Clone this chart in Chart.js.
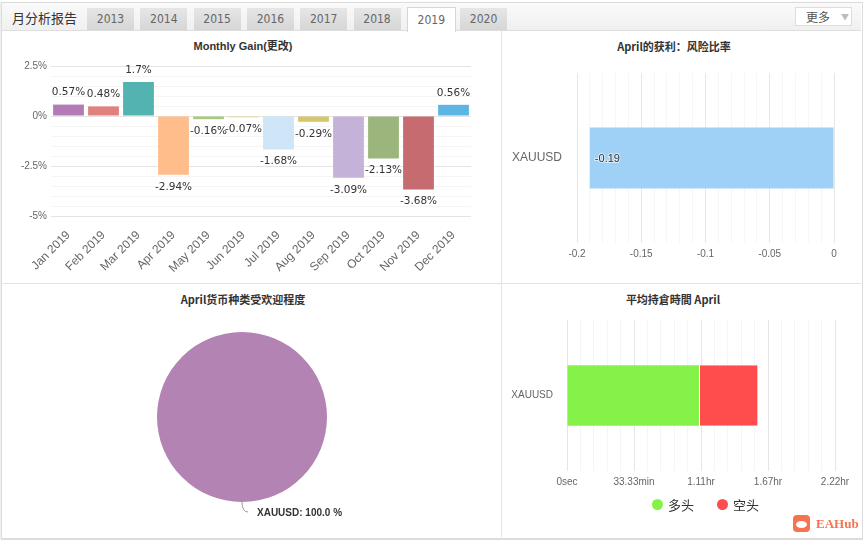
<!DOCTYPE html>
<html>
<head>
<meta charset="utf-8">
<script src="https://cdn.jsdelivr.net/npm/chart.js@4/dist/chart.umd.min.js"></script>
<style>
  body { margin: 0; background: #fff; font-family: Arial, "Liberation Sans", "Noto Sans CJK SC", sans-serif; }
  #wrap { position: relative; width: 863px; height: 540px; overflow: hidden; }
  .frame { position: absolute; left: 1px; top: 2px; width: 860px; height: 535px; border: 1px solid #dcdcdc; box-shadow: 0 1px 2px #ccc; }
  .head { position: absolute; left: 2px; top: 3px; width: 859px; height: 27px; background: linear-gradient(#fafafa, #f0f0f0); border-bottom: 1px solid #dedede; }
  .head-title { position: absolute; left: 12px; top: 10px; font-size: 13px; color: #333; font-family: "Noto Sans CJK SC", sans-serif; line-height: 16px; }
  .tab { position: absolute; top: 8px; width: 47px; height: 22px; background: linear-gradient(#e6e6e6, #d6d6d6); color: #666; font-size: 12px; text-align: center; line-height: 23px; font-family: "DejaVu Sans Condensed", "Liberation Sans Narrow", Arial, sans-serif; }
  .tab.active { background: #fff; border: 1px solid #d6d6d6; border-bottom: none; top: 7px; height: 24px; line-height: 25px; }
  .more { position: absolute; left: 795px; top: 7px; width: 55px; height: 17px; background: #fff; border: 1px solid #ddd; font-size: 12px; color: #555; line-height: 17px; font-family: "Noto Sans CJK SC", sans-serif; }
  .more span { position: absolute; left: 10px; }
  .more i { position: absolute; left: 45px; font-style: normal; font-size: 8px; color: #bbb; }
  .vline { position: absolute; left: 501px; top: 31px; width: 1px; height: 506px; background: #e3e3e3; }
  .hline { position: absolute; left: 2px; top: 283px; width: 859px; height: 1px; background: #e3e3e3; }
  .title { position: absolute; font-size: 11px; font-weight: bold; color: #333; text-align: center; font-family: Arial, "Noto Sans CJK SC", sans-serif; }
  .box { position: absolute; }
  .legend { position: absolute; top: 495px; left: 650px; font-size: 13px; color: #333; font-family: "Noto Sans CJK SC", sans-serif; }
  .legend .dot { position: absolute; top: 4px; width: 11px; height: 11px; border-radius: 50%; }
  .legend .txt { position: absolute; top: 0; white-space: nowrap; }
  .logo { position: absolute; left: 793px; top: 515px; }
  .logo .ic { position: absolute; left: 0; top: 0; width: 17px; height: 17px; border-radius: 4px; background: #f7734f; }
  .logo .ic b { position: absolute; left: 3px; top: 6px; width: 11px; height: 7px; border-radius: 50%; background: #fff; }
  .logo .tx { position: absolute; left: 23px; top: 0; font: bold 13px "Liberation Serif", "DejaVu Serif", serif; color: #f7734f; line-height: 17px; }
</style>
</head>
<body>
<div id="wrap">
  <div class="frame"></div>
  <div class="head"></div>
  <div class="head-title">月分析报告</div>
  <div id="tabs"></div>
  <div class="more"><span>更多</span><i>▼</i></div>
  <div class="vline"></div>
  <div class="hline"></div>

  <div class="title" style="left:0;top:37px;width:486px;">Monthly Gain(更改)</div>
  <div class="title" style="left:502px;top:38px;width:344px;font-family:'Noto Sans CJK SC',sans-serif;">April的获利：风险比率</div>
  <div class="title" style="left:0;top:291px;width:486px;font-family:'Noto Sans CJK SC',sans-serif;">April货币种类受欢迎程度</div>
  <div class="title" style="left:502px;top:291px;width:342px;font-family:'Noto Sans CJK SC',sans-serif;">平均持倉時間 April</div>

  <div class="box" style="left:0;top:30px;width:500px;height:253px;"><canvas id="gainChart"></canvas></div>
  <div class="box" style="left:502px;top:30px;width:360px;height:253px;"><canvas id="riskChart"></canvas></div>
  <div class="box" style="left:0;top:283px;width:500px;height:255px;"><canvas id="pieChart"></canvas></div>
  <div class="box" style="left:502px;top:283px;width:360px;height:255px;"><canvas id="holdChart"></canvas></div>

  <div class="legend" id="holdLegend"></div>
  <div class="logo"><div class="ic"><b></b></div><div class="tx">EAHub</div></div>
</div>

<script>
const years = ['2013', '2014', '2015', '2016', '2017', '2018', '2019', '2020'];
const activeYear = '2019';

const months = ['Jan 2019', 'Feb 2019', 'Mar 2019', 'Apr 2019', 'May 2019', 'Jun 2019',
    'Jul 2019', 'Aug 2019', 'Sep 2019', 'Oct 2019', 'Nov 2019', 'Dec 2019'];
const monthlyGain = [0.57, 0.48, 1.7, -2.94, -0.16, -0.07, -1.68, -0.29, -3.09, -2.13, -3.68, 0.56];
const monthColors = ['#b27bb7', '#e0817d', '#52b3b1', '#ffbd8c', '#a9c97e', '#e9d78e',
    '#cfe5f8', '#d5c66c', '#c4b2d8', '#9bb57d', '#c66b70', '#5db5e1'];

const symbols = ['XAUUSD'];
const riskRatio = [-0.19];

const pieSymbols = ['XAUUSD'];
const pieShare = [100];

const holdSymbols = ['XAUUSD'];
const holdLong = [3940];   // seconds
const holdShort = [1750];  // seconds
const holdTickLabels = ['0sec', '33.33min', '1.11hr', '1.67hr', '2.22hr'];
const holdNames = ['多头', '空头'];
const holdColors = ['#85f24a', '#ff4c4c'];

// tabs
const tabsEl = document.getElementById('tabs');
years.forEach((y, i) => {
    const d = document.createElement('div');
    d.className = 'tab' + (y === activeYear ? ' active' : '');
    d.style.left = (87 + i * 53.3) + 'px';
    d.textContent = y;
    tabsEl.appendChild(d);
});

const legendEl = document.getElementById('holdLegend');
holdNames.forEach((n, i) => {
    const dot = document.createElement('div');
    dot.className = 'dot';
    dot.style.left = (i * 65 + 2) + 'px';
    dot.style.background = holdColors[i];
    const t = document.createElement('div');
    t.className = 'txt';
    t.style.left = (i * 65 + 18) + 'px';
    t.textContent = n;
    legendEl.appendChild(dot);
    legendEl.appendChild(t);
});

Chart.defaults.animation = false;
Chart.defaults.font.family = 'Arial, "Liberation Sans", "Noto Sans CJK SC", sans-serif';
Chart.defaults.color = '#666';

const isMultiple = (v, step) => Math.abs(v / step - Math.round(v / step)) < 1e-6;

// labels on the monthly bars
const gainLabels = {
    id: 'gainLabels',
    afterDatasetsDraw(chart) {
        const c = chart.ctx;
        const meta = chart.getDatasetMeta(0);
        c.save();
        c.font = '10.5px "DejaVu Sans", sans-serif';
        c.fillStyle = '#333';
        c.textAlign = 'center';
        c.textBaseline = 'middle';
        meta.data.forEach((bar, i) => {
            const v = monthlyGain[i];
            const p = bar.getProps(['x', 'y', 'base'], true);
            const y = v >= 0 ? Math.min(p.y, p.base) - 12 : Math.max(p.y, p.base) + 12;
            c.fillText(v + '%', p.x, y);
        });
        c.restore();
    }
};

new Chart(document.getElementById('gainChart'), {
    type: 'bar',
    data: {
        labels: months,
        datasets: [{
            data: monthlyGain,
            backgroundColor: monthColors,
            barPercentage: 0.88,
            categoryPercentage: 1
        }]
    },
    options: {
        responsive: true,
        maintainAspectRatio: false,
        layout: { padding: { top: 36, right: 29, left: 0, bottom: 0 } },
        plugins: { legend: { display: false }, tooltip: { enabled: false } },
        scales: {
            x: {
                grid: { display: false },
                border: { display: false },
                ticks: { minRotation: 45, maxRotation: 45, padding: 4, color: '#666', font: { size: 12 } },
                afterFit: s => { s.height = 67; }
            },
            y: {
                min: -5,
                max: 2.5,
                border: { display: false },
                grid: {
                    drawTicks: false,
                    color: ctx => isMultiple(ctx.tick.value, 2.5) ? '#e4e4e4' : '#f5f5f5'
                },
                ticks: {
                    stepSize: 0.5,
                    autoSkip: false,
                    padding: 4,
                    color: '#666',
                    font: { size: 10 },
                    callback: v => isMultiple(v, 2.5) ? (Math.round(v * 10) / 10) + '%' : ''
                },
                afterFit: s => { s.width = 51; }
            }
        }
    },
    plugins: [gainLabels]
});

// label inside the risk bar
const riskLabels = {
    id: 'riskLabels',
    afterDatasetsDraw(chart) {
        const c = chart.ctx;
        const meta = chart.getDatasetMeta(0);
        c.save();
        c.font = '11px Arial, sans-serif';
        c.textAlign = 'left';
        c.textBaseline = 'middle';
        meta.data.forEach((bar, i) => {
            const p = bar.getProps(['x', 'y', 'base'], true);
            const x = Math.min(p.x, p.base) + 5;
            c.lineWidth = 2;
            c.strokeStyle = 'rgba(255,255,255,0.6)';
            c.strokeText(String(riskRatio[i]), x, p.y + 1);
            c.fillStyle = '#333';
            c.fillText(String(riskRatio[i]), x, p.y + 1);
        });
        c.restore();
    }
};

new Chart(document.getElementById('riskChart'), {
    type: 'bar',
    data: {
        labels: symbols,
        datasets: [{
            data: riskRatio,
            backgroundColor: '#9fd0f5',
            barPercentage: 0.36,
            categoryPercentage: 1
        }]
    },
    options: {
        indexAxis: 'y',
        responsive: true,
        maintainAspectRatio: false,
        layout: { padding: { top: 43, right: 28, left: 0, bottom: 0 } },
        plugins: { legend: { display: false }, tooltip: { enabled: false } },
        scales: {
            x: {
                min: -0.2,
                max: 0,
                border: { display: false },
                grid: {
                    drawTicks: false,
                    color: ctx => isMultiple(ctx.tick.value, 0.05) ? '#e8e8e8' : '#f6f6f6'
                },
                ticks: {
                    stepSize: 0.01,
                    autoSkip: false,
                    maxRotation: 0,
                    padding: 5,
                    color: '#666',
                    font: { size: 10 },
                    callback: v => isMultiple(v, 0.05) ? String(Math.round(v * 100) / 100) : ''
                },
                afterFit: s => { s.height = 40; }
            },
            y: {
                border: { display: false },
                grid: { display: false, drawTicks: false },
                ticks: { padding: 15, color: '#666', font: { size: 12 } },
                afterFit: s => { s.width = 75; }
            }
        }
    },
    plugins: [riskLabels]
});

// pie data label with connector
const pieLabel = {
    id: 'pieLabel',
    afterDatasetsDraw(chart) {
        const c = chart.ctx;
        const arc = chart.getDatasetMeta(0).data[0];
        const p = arc.getProps(['x', 'y', 'outerRadius'], true);
        const total = pieShare.reduce((a, b) => a + b, 0);
        const bx = p.x, by = p.y + p.outerRadius;
        c.save();
        c.strokeStyle = '#999';
        c.lineWidth = 1;
        c.beginPath();
        c.moveTo(bx, by);
        c.quadraticCurveTo(bx, by + 10, bx + 6, by + 10);
        c.stroke();
        c.font = 'bold 10px Arial, sans-serif';
        c.fillStyle = '#333';
        c.textAlign = 'left';
        c.textBaseline = 'middle';
        c.fillText(pieSymbols[0] + ': ' + (pieShare[0] / total * 100).toFixed(1) + ' %', bx + 15, by + 11);
        c.restore();
    }
};

new Chart(document.getElementById('pieChart'), {
    type: 'pie',
    data: {
        labels: pieSymbols,
        datasets: [{ data: pieShare, backgroundColor: ['#b283b3'], borderWidth: 0 }]
    },
    options: {
        responsive: true,
        maintainAspectRatio: false,
        layout: { padding: { top: 49, left: 157, right: 173, bottom: 36 } },
        plugins: { legend: { display: false }, tooltip: { enabled: false } }
    },
    plugins: [pieLabel]
});

new Chart(document.getElementById('holdChart'), {
    type: 'bar',
    data: {
        labels: holdSymbols,
        datasets: [{
            label: holdNames[0],
            data: holdLong,
            backgroundColor: holdColors[0],
            barPercentage: 0.4,
            categoryPercentage: 1
        }, {
            label: holdNames[1],
            data: holdShort,
            backgroundColor: holdColors[1],
            borderColor: '#ffffff',
            borderWidth: { left: 1, right: 0, top: 0, bottom: 0 },
            borderSkipped: false,
            barPercentage: 0.4,
            categoryPercentage: 1
        }]
    },
    options: {
        indexAxis: 'y',
        responsive: true,
        maintainAspectRatio: false,
        layout: { padding: { top: 37, right: 27, left: 0, bottom: 0 } },
        plugins: { legend: { display: false }, tooltip: { enabled: false } },
        scales: {
            x: {
                stacked: true,
                min: 0,
                max: 8000,
                border: { display: false },
                grid: {
                    drawTicks: false,
                    color: ctx => isMultiple(ctx.tick.value, 2000) ? '#e6e6e6' : '#f5f5f5'
                },
                ticks: {
                    stepSize: 400,
                    autoSkip: false,
                    maxRotation: 0,
                    padding: 5,
                    color: '#666',
                    font: { size: 10 },
                    callback: v => isMultiple(v, 2000) ? holdTickLabels[Math.round(v / 2000)] : ''
                },
                afterFit: s => { s.height = 67; }
            },
            y: {
                stacked: true,
                border: { display: false },
                grid: { display: false, drawTicks: false },
                ticks: { padding: 14, color: '#666', font: { size: 10 } },
                afterFit: s => { s.width = 65; }
            }
        }
    }
});
</script>
</body>
</html>
